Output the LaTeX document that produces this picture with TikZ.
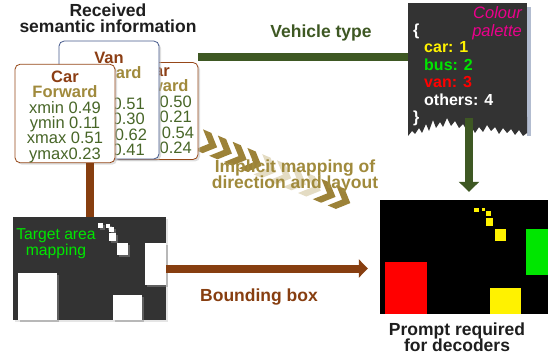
\documentclass[tikz,border=0pt]{standalone}
\usepackage{fontspec}
\setmainfont{Liberation Sans}
\usetikzlibrary{shadows,arrows.meta}
\definecolor{cardbrown}{RGB}{150,72,25}
\definecolor{namebrown}{RGB}{140,62,20}
\definecolor{fwdgold}{RGB}{160,138,60}
\definecolor{valgreen}{RGB}{72,102,40}
\definecolor{vanblue}{RGB}{70,90,140}
\definecolor{typegreen}{RGB}{62,88,35}
\definecolor{boxbrown}{RGB}{135,62,16}
\definecolor{darkbox}{RGB}{51,51,51}
\definecolor{chevgold}{RGB}{156,130,56}
\definecolor{chevpale}{RGB}{228,220,195}
\definecolor{paletteshadow}{RGB}{178,188,208}
\definecolor{titlegray}{RGB}{30,30,30}
\definecolor{palgreen}{RGB}{0,230,0}
\newcommand{\cardfont}{\fontsize{16.5}{15.4}\selectfont\lineskiplimit=-10pt\lineskip=0pt\relax}
\tikzset{
    card/.style={
           rectangle,
           rounded corners=5pt,
           fill=white,
           line width=0.8pt,
           minimum width=100pt,
           minimum height=97pt,
           inner sep=0pt,
           align=center,
           drop shadow={shadow xshift=2pt, shadow yshift=-2pt, fill=black!25},
           font=\cardfont
           },
    linklabel/.style={
           font=\bfseries\fontsize{17.5}{16.5}\selectfont,
           align=center
           },
    thickbar/.style={line width=8pt},
    whitepatch/.style={
           fill=white,
           drop shadow={shadow xshift=1.5pt, shadow yshift=-1.5pt, fill=black!45}
           },
}

\begin{document}
\begin{tikzpicture}[x=1pt,y=-1pt]
            \useasboundingbox (0,0) rectangle (556,355);

            % chevrons behind the mapping text
            \foreach \i/\shade in {0/chevgold,1/chevgold,2/chevgold,3/chevgold,4/chevpale,5/chevpale,6/chevpale,7/chevpale,8/chevgold,9/chevgold}
               \fill[\shade, shift={(207+14.8*\i,143+6.2*\i)}, rotate=-23]
                  (-9,-11) -- (0,-11) -- (11,0) -- (0,11) -- (-9,11) -- (2,0) -- cycle;

            \node[linklabel, text=titlegray] (title) at (108,18)
             {Received\\semantic information};

            % stacked semantic cards
            \node[card, draw=cardbrown, minimum width=84pt] (backCard) at (156,111)
             {\textcolor{namebrown}{\textbf{Car}}\\
              \textcolor{fwdgold}{\textbf{Forward}}\\
              \textcolor{valgreen}{xmin 0.50}\\
              \textcolor{valgreen}{ymin 0.21}\\
              \textcolor{valgreen}{xmax 0.54}\\
              \textcolor{valgreen}{ymax0.24}};

            \node[card, draw=vanblue, minimum height=112pt] (vanCard) at (109,100)
             {\rule{0pt}{22pt}\textcolor{namebrown}{\textbf{Van}}\\
              \textcolor{fwdgold}{\textbf{Forward}}\\
              \mbox{}\\
              \textcolor{valgreen}{xmin 0.51}\\
              \textcolor{valgreen}{ymin 0.30}\\
              \textcolor{valgreen}{xmax 0.62}\\
              \textcolor{valgreen}{ymax0.41}};

            \node[card, draw=cardbrown] (carCard) at (65,113.5)
             {\rule{0pt}{18pt}\textcolor{namebrown}{\textbf{Car}}\\
              \textcolor{fwdgold}{\textbf{Forward}}\\
              \textcolor{valgreen}{xmin 0.49}\\
              \textcolor{valgreen}{ymin 0.11}\\
              \textcolor{valgreen}{xmax 0.51}\\
              \textcolor{valgreen}{ymax0.23}};

            % colour palette with torn bottom
            \fill[paletteshadow] (411,7) rectangle (531,118);
            \fill[paletteshadow] (527,118) rectangle (531,136);
            \node[rectangle, fill=darkbox, minimum width=119pt, minimum height=115pt,
                  inner sep=0pt] (palette) at (467.5,60.5) {};
            \fill[darkbox] (408,117) -- (408,136) -- (412,131) -- (415,134) -- (419,128)
                -- (422,133) -- (426,124) -- (429,131) -- (433,120) -- (436,128)
                -- (440,122) -- (443,127) -- (447,118) -- (451,126) -- (455,121)
                -- (459,128) -- (463,124) -- (467,131) -- (471,126) -- (475,133)
                -- (479,127) -- (483,132) -- (487,125) -- (491,131) -- (495,127)
                -- (499,134) -- (503,128) -- (507,133) -- (511,129) -- (515,135)
                -- (519,130) -- (523,136) -- (527,133) -- (527,117) -- cycle;

            \node[anchor=north west, inner sep=0pt, text=white,
                  font=\bfseries\fontsize{16}{17.5}\selectfont] (paletteList) at (413,23)
             {\begin{tabular}{@{}l@{}}
              \{\\
              \hspace{11pt}\textcolor{yellow}{car: 1}\\
              \hspace{11pt}\textcolor{palgreen}{bus: 2}\\
              \hspace{11pt}\textcolor{red}{van: 3}\\
              \hspace{11pt}others: 4\\
              \}
              \end{tabular}};

            \node[anchor=north east, inner sep=0pt, align=right, text=magenta,
                  font=\itshape\fontsize{16.5}{18}\selectfont] (paletteTitle) at (522,6)
             {Colour\\palette};

            % target area mapping
            \node[rectangle, fill=darkbox, minimum width=153pt, minimum height=103pt,
                  inner sep=0pt,
                  drop shadow={shadow xshift=2pt, shadow yshift=-2pt, fill=black!20}]
                  (target) at (89.5,268.5) {};
            \fill[whitepatch] (18,273) rectangle (57,320);
            \fill[whitepatch] (113,295) rectangle (142,320);
            \fill[whitepatch] (145,243) rectangle (166,285);
            \fill[whitepatch] (98,223) rectangle (103,228);
            \fill[whitepatch] (106,224) rectangle (110,228);
            \fill[whitepatch] (109,227) rectangle (114,232);
            \fill[whitepatch] (109,233) rectangle (116,241);
            \fill[whitepatch] (117,243) rectangle (128,255);
            \node[align=center, text=palgreen, font=\fontsize{15.7}{16}\selectfont]
                  (targetText) at (56,244) {Target area\\mapping};

            % prompt for the decoders
            \node[rectangle, fill=black, minimum width=168pt, minimum height=114pt,
                  inner sep=0pt] (prompt) at (464,257) {};
            \fill[red] (385,262) rectangle (427,314);
            \fill[yellow] (490,288) rectangle (521,314);
            \fill[palgreen] (526,229) rectangle (548,275);
            \fill[yellow] (474,208) rectangle (479,212);
            \fill[yellow] (482,208) rectangle (485,211);
            \fill[yellow] (486,211) rectangle (491,216);
            \fill[yellow] (486,218) rectangle (493,226);
            \fill[yellow] (495,229) rectangle (506,241);
            \node[linklabel, text=titlegray] (promptText) at (457,337)
             {Prompt required\\for decoders};

            % connectors
            \coordinate (typeStart) at (198,57);
            \draw[thickbar, typegreen] (typeStart) -- (typeStart -| palette.west);
            \draw[thickbar, typegreen, -{Triangle[width=20pt,length=10pt]},
                  shorten >=8pt] (palette.south -| 469,0) -- (prompt.north -| 469,0);
            \draw[thickbar, boxbrown] (carCard.south -| target.north) -- (target.north);
            \draw[thickbar, boxbrown, -{Triangle[width=18pt,length=9pt]},
                  shorten >=12pt] (target.east) -- (target.east -| prompt.west);

            \node[linklabel, text=typegreen] (typeText) at (321,33) {Vehicle type};
            \node[linklabel, text=fwdgold] (mappingText) at (295,176)
             {Implicit mapping of\\direction and layout};
            \node[linklabel, text=boxbrown] (boxText) at (259,297) {Bounding box};

        \end{tikzpicture}
\end{document}
